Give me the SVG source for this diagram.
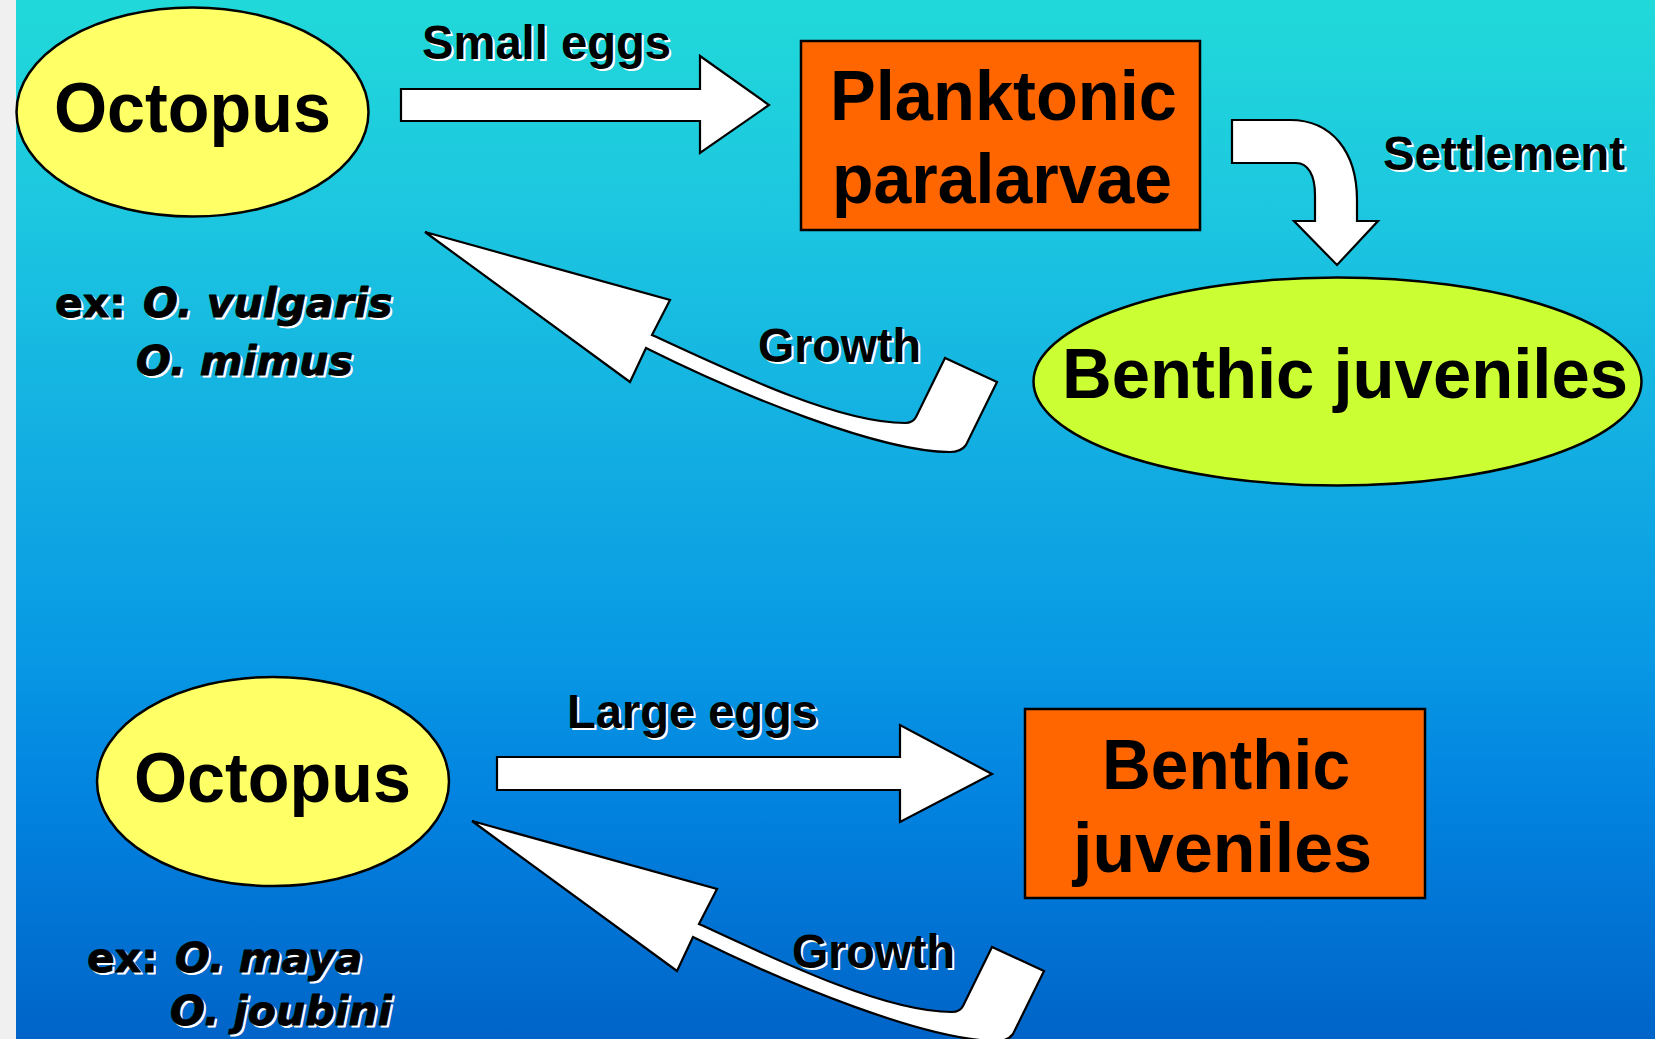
<svg xmlns="http://www.w3.org/2000/svg" xmlns:xlink="http://www.w3.org/1999/xlink" width="1655" height="1039" viewBox="0 0 1655 1039">
  <defs>
    <linearGradient id="bg" x1="0" y1="0" x2="0" y2="1039" gradientUnits="userSpaceOnUse">
      <stop offset="0" stop-color="#21D9D9"/>
      <stop offset="0.21" stop-color="#1CC6E0"/>
      <stop offset="0.44" stop-color="#12ADE2"/>
      <stop offset="0.62" stop-color="#089AE4"/>
      <stop offset="0.77" stop-color="#0283E0"/>
      <stop offset="1" stop-color="#0064C8"/>
    </linearGradient>
    <style>
      .node { stroke: #000; stroke-width: 2.5; }
      .oct { fill: #FFFF66; }
      .box { fill: #FF6600; }
      .green { fill: #CCFF33; }
      .arrow { fill: #FFFFFF; stroke: #000; stroke-width: 2.2; stroke-linejoin: miter; }
      .big { font-family: "Liberation Sans", Arial, sans-serif; font-weight: bold; font-size: 70px; fill: #000; }
      .lbl { font-family: "Liberation Sans", Arial, sans-serif; font-weight: bold; font-size: 48px; }
      .ex { font-family: "DejaVu Sans", sans-serif; font-weight: bold; font-size: 41px; stroke-width: 0.9; stroke-linejoin: round; }
      .it { font-style: italic; }
      .sh { fill: #FFFFFF; stroke: #FFFFFF; }
      .ink { fill: #000000; stroke: #000000; }
      .lbl-use { stroke: none; }
    </style>
    <text id="t-small" class="lbl" x="422" y="59" textLength="249" lengthAdjust="spacingAndGlyphs">Small eggs</text>
    <text id="t-settle" class="lbl" x="1383" y="170" textLength="242" lengthAdjust="spacingAndGlyphs">Settlement</text>
    <text id="t-growth1" class="lbl" x="758" y="362" textLength="163" lengthAdjust="spacingAndGlyphs">Growth</text>
    <text id="t-large" class="lbl" x="567" y="728" textLength="251" lengthAdjust="spacingAndGlyphs">Large eggs</text>
    <text id="t-growth2" class="lbl" x="792" y="968" textLength="163" lengthAdjust="spacingAndGlyphs">Growth</text>
    <text id="t-ex1" class="ex"><tspan x="55" y="317">ex:</tspan><tspan class="it" x="143" y="317">O. vulgaris</tspan><tspan class="it" x="136" y="375">O. mimus</tspan></text>
    <text id="t-ex2" class="ex"><tspan x="87" y="972">ex:</tspan><tspan class="it" x="175" y="972">O. maya</tspan><tspan class="it" x="170" y="1025">O. joubini</tspan></text>
    <path id="growth-shape" d="M425,232 L670,300 L652,335 C740,376 840,423 905,423 Q913,423 916,417 L945,358 L997,382 L966,445 Q961,452 950,452 C880,452 740,395 646,348 L630,382 Z"/>
  </defs>

  <rect x="0" y="0" width="1655" height="1039" fill="url(#bg)"/>
  <rect x="0" y="0" width="16" height="1039" fill="#F0F0F0"/>

  <g id="connectors">
    <path id="arrow-small-eggs" class="arrow" d="M401,89 L700,89 L700,56 L769,105 L700,153 L700,121 L401,121 Z"/>
    <path id="arrow-settlement" class="arrow" d="M1232,120 L1290,120 C1332,120 1357,152 1357,200 L1357,221 L1378,221 L1337,265 L1294,221 L1315,221 L1315,195 C1315,175 1308,163 1296,163 L1232,163 Z"/>
    <use id="arrow-growth-top" xlink:href="#growth-shape" class="arrow"/>
    <path id="arrow-large-eggs" class="arrow" d="M497,757 L900,757 L900,725 L992,774 L900,822 L900,790 L497,790 Z"/>
    <use id="arrow-growth-bottom" xlink:href="#growth-shape" class="arrow" transform="translate(47,589)"/>
  </g>

  <g id="node-octopus-top">
    <ellipse class="node oct" cx="192.5" cy="112" rx="176" ry="104.5"/>
    <text class="big" x="54" y="132" textLength="277" lengthAdjust="spacingAndGlyphs">Octopus</text>
  </g>

  <g id="node-planktonic">
    <rect class="node box" x="801" y="41" width="399" height="189"/>
    <text class="big" x="830" y="120" textLength="347" lengthAdjust="spacingAndGlyphs">Planktonic</text>
    <text class="big" x="832" y="203" textLength="340" lengthAdjust="spacingAndGlyphs">paralarvae</text>
  </g>

  <g id="node-benthic-ellipse">
    <ellipse class="node green" cx="1337.5" cy="381.5" rx="304" ry="104"/>
    <text class="big" x="1062" y="398" textLength="566" lengthAdjust="spacingAndGlyphs">Benthic juveniles</text>
  </g>

  <g id="node-octopus-bottom">
    <ellipse class="node oct" cx="273" cy="781.5" rx="176" ry="104.5"/>
    <text class="big" x="134" y="802" textLength="277" lengthAdjust="spacingAndGlyphs">Octopus</text>
  </g>

  <g id="node-benthic-box">
    <rect class="node box" x="1025" y="709" width="400" height="189"/>
    <text class="big" x="1102" y="789" textLength="248" lengthAdjust="spacingAndGlyphs">Benthic</text>
    <text class="big" x="1073" y="872" textLength="299" lengthAdjust="spacingAndGlyphs">juveniles</text>
  </g>

  <g id="labels">
    <use xlink:href="#t-small" class="sh lbl-use" x="2" y="2"/>
    <use xlink:href="#t-small" class="ink lbl-use"/>
    <use xlink:href="#t-settle" class="sh lbl-use" x="2" y="2"/>
    <use xlink:href="#t-settle" class="ink lbl-use"/>
    <use xlink:href="#t-growth1" class="sh lbl-use" x="2" y="2"/>
    <use xlink:href="#t-growth1" class="ink lbl-use"/>
    <use xlink:href="#t-large" class="sh lbl-use" x="2" y="2"/>
    <use xlink:href="#t-large" class="ink lbl-use"/>
    <use xlink:href="#t-growth2" class="sh lbl-use" x="2" y="2"/>
    <use xlink:href="#t-growth2" class="ink lbl-use"/>
    <use xlink:href="#t-ex1" class="sh" x="2" y="2"/>
    <use xlink:href="#t-ex1" class="ink"/>
    <use xlink:href="#t-ex2" class="sh" x="2" y="2"/>
    <use xlink:href="#t-ex2" class="ink"/>
  </g>
</svg>
